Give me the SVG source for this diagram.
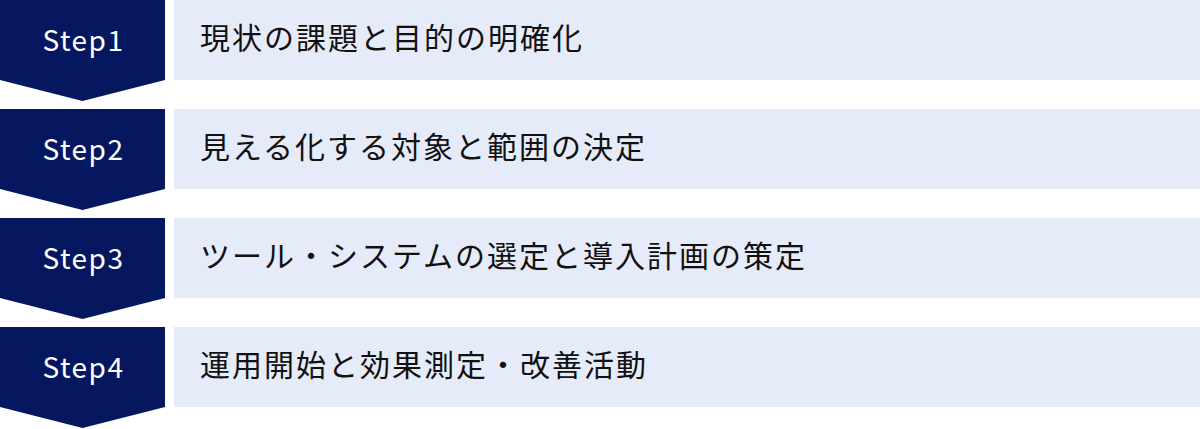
<svg xmlns="http://www.w3.org/2000/svg" width="1200" height="429" viewBox="0 0 1200 429">
<defs>
<style>
.step{fill:#05175f}
.box{fill:#e5ebf8}
.lbl{font-family:"Noto Sans CJK JP","Noto Sans",sans-serif;font-size:28px;fill:#ffffff;letter-spacing:1.5px}
.txt{font-family:"Noto Sans CJK JP","Noto Sans",sans-serif;font-size:30px;fill:#111111;letter-spacing:2px}
</style>
</defs>
<rect width="1200" height="429" fill="#ffffff"/>
<g id="step1">
<path class="step" d="M0 0H165V80L82.5 101L0 80Z"/>
<rect class="box" x="174" y="0" width="1026" height="80"/>
<text class="lbl" x="83.5" y="51" text-anchor="middle">Step1</text>
<text class="txt" x="200" y="49">現状の課題と目的の明確化</text>
</g>
<g id="step2">
<path class="step" d="M0 109H165V189L82.5 210L0 189Z"/>
<rect class="box" x="174" y="109" width="1026" height="80"/>
<text class="lbl" x="83.5" y="160" text-anchor="middle">Step2</text>
<text class="txt" x="200" y="158">見える化する対象と範囲の決定</text>
</g>
<g id="step3">
<path class="step" d="M0 218H165V298L82.5 319L0 298Z"/>
<rect class="box" x="174" y="218" width="1026" height="80"/>
<text class="lbl" x="83.5" y="269" text-anchor="middle">Step3</text>
<text class="txt" x="200" y="267">ツール・システムの選定と導入計画の策定</text>
</g>
<g id="step4">
<path class="step" d="M0 327H165V407L82.5 428L0 407Z"/>
<rect class="box" x="174" y="327" width="1026" height="80"/>
<text class="lbl" x="83.5" y="378" text-anchor="middle">Step4</text>
<text class="txt" x="200" y="376">運用開始と効果測定・改善活動</text>
</g>
<g id="connectors"></g>
</svg>
